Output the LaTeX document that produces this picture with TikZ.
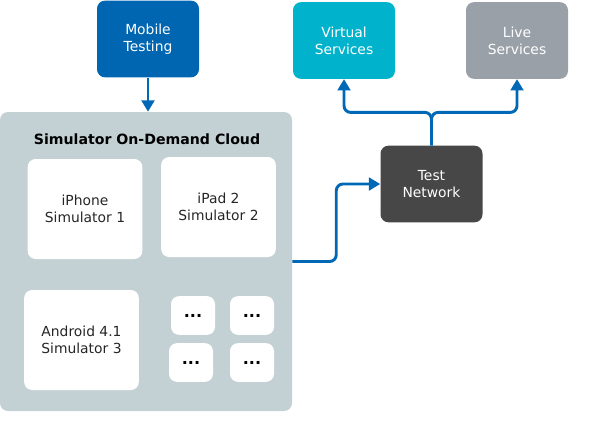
\documentclass[tikz,border=0pt]{standalone}
\usepackage{fontspec}
\setmainfont{DejaVu Sans}
\usetikzlibrary{arrows.meta}

\definecolor{mobileblue}{RGB}{0,102,178}
\definecolor{virtualcyan}{RGB}{0,178,203}
\definecolor{livegray}{RGB}{153,160,167}
\definecolor{netdark}{RGB}{71,71,71}
\definecolor{cloudgray}{RGB}{195,209,212}
\definecolor{linkblue}{RGB}{0,104,181}

\tikzset{
  box/.style={rounded corners=6pt, inner sep=0pt, align=center,
    font=\fontsize{10.4}{13}\selectfont},
  topbox/.style={box, text=white, minimum width=76.5pt, minimum height=57.5pt},
  simbox/.style={box, fill=white, text=black!85, minimum width=86pt, minimum height=75pt},
  dotbox/.style={box, fill=white, minimum width=33pt, minimum height=29pt,
    font=\bfseries\fontsize{12}{12}\selectfont},
  link/.style={draw=linkblue, line width=2.2pt, rounded corners=5pt,
    -{Triangle[width=9.5pt,length=8.5pt]}}
}

\begin{document}
\begin{tikzpicture}[x=0.75pt,y=-0.75pt]
\useasboundingbox (0,0) rectangle (596,426);

% cloud and its simulators
\node[box, fill=cloudgray, minimum width=219pt, minimum height=224.25pt] (cloud) at (146,261.5) {};
\node[font=\bfseries\fontsize{10.6}{12}\selectfont] (title) at (147,139) {Simulator On-Demand Cloud};
\node[simbox] (iphone) at (85,209) {iPhone\\Simulator 1};
\node[simbox] (ipad) at (218.5,207) {iPad 2\\Simulator 2};
\node[simbox] (android) at (81.5,340) {Android 4.1\\Simulator 3};
\node[dotbox] (dotsa) at (193,315.5) {...};
\node[dotbox] (dotsb) at (252,315.5) {...};
\node[dotbox] (dotsc) at (191,362.5) {...};
\node[dotbox] (dotsd) at (252,362.5) {...};

% outer boxes
\node[topbox, fill=mobileblue] (mobile) at (148,39) {Mobile\\Testing};
\node[topbox, fill=virtualcyan] (virtual) at (344,40.5) {Virtual\\Services};
\node[topbox, fill=livegray] (live) at (517,40.5) {Live\\Services};
\node[topbox, fill=netdark] (network) at (431.5,184) {Test\\Network};

% connectors
\draw[link] (mobile.south) -- (mobile.south |- cloud.north);
\draw[link] (cloud.east) -- ++(44,0) |- (network.west);
\draw[link] (network.north) -- ++(0,-33) -| (virtual.south);
\draw[link] (network.north) -- ++(0,-33) -| (live.south);
\end{tikzpicture}
\end{document}
